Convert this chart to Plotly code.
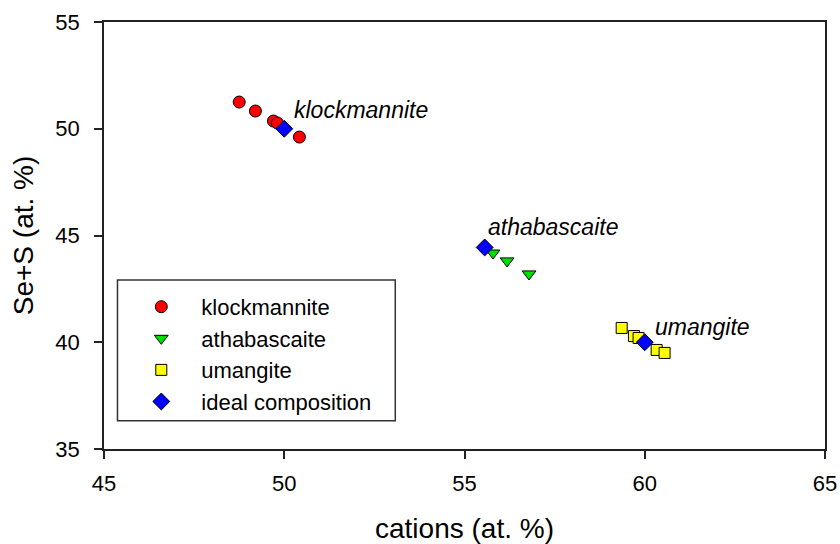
import plotly.graph_objects as go

# Compositions (at. %): cations vs Se+S
klock_x = [48.75, 49.20, 49.70, 49.81, 50.42]
klock_y = [51.25, 50.83, 50.36, 50.27, 49.61]

atha_x = [55.79, 56.18, 56.79]
atha_y = [44.18, 43.81, 43.20]

uman_x = [59.36, 59.70, 59.83, 60.33, 60.55]
uman_y = [40.67, 40.29, 40.20, 39.64, 39.50]

ideal_x = [50.00, 55.56, 60.00]
ideal_y = [50.00, 44.44, 40.00]

labels = ["klockmannite", "athabascaite", "umangite"]
label_x = [50.22, 55.6, 60.22]
label_y = [50.9, 45.4, 40.7]

x_ticks = [45, 50, 55, 60, 65]
y_ticks = [35, 40, 45, 50, 55]

FONT = "Liberation Sans, Arial, sans-serif"
outline = dict(color="black", width=1)

fig = go.Figure()
fig.add_trace(go.Scatter(x=klock_x, y=klock_y, mode="markers", name="klockmannite",
                         legendgroup="a",
                         marker=dict(symbol="circle", size=12, color="#ff0000", line=outline)))
fig.add_trace(go.Scatter(x=atha_x, y=atha_y, mode="markers", name="athabascaite",
                         legendgroup="b",
                         marker=dict(symbol="triangle-down", size=12, color="#00e000", line=outline)))
fig.add_trace(go.Scatter(x=uman_x, y=uman_y, mode="markers", name="umangite",
                         legendgroup="c",
                         marker=dict(symbol="square", size=11, color="#ffff00", line=outline)))
fig.add_trace(go.Scatter(x=ideal_x, y=ideal_y, mode="markers", name="ideal composition",
                         legendgroup="d",
                         marker=dict(symbol="diamond", size=13, color="#0000ff", line=outline)))

for t, lx, ly in zip(labels, label_x, label_y):
    fig.add_annotation(x=lx, y=ly, text=f"<i>{t}</i>", showarrow=False,
                       xanchor="left", yanchor="middle",
                       font=dict(family=FONT, size=23, color="black"))

# legend frame
fig.add_shape(type="rect", xref="paper", yref="paper",
              x0=0.0187, x1=0.404, y0=0.066, y1=0.396,
              line=dict(color="#333", width=1.5), fillcolor="rgba(0,0,0,0)")

axis_common = dict(showline=True, linecolor="#222", linewidth=1.5, mirror=True,
                   ticks="outside", ticklen=8, tickwidth=1.5, tickcolor="#222",
                   showgrid=False, zeroline=False, automargin=False,
                   tickfont=dict(family=FONT, size=22, color="black"))

fig.update_layout(
    width=840, height=544,
    margin=dict(l=103.5, r=15, t=22, b=95),
    paper_bgcolor="white", plot_bgcolor="white",
    font=dict(family=FONT, color="black"),
    xaxis=dict(range=[45, 65], tickvals=x_ticks, ticklabelstandoff=6,
               title=dict(text="cations (at. %)", font=dict(family=FONT, size=28), standoff=24),
               **axis_common),
    yaxis=dict(range=[35, 55], tickvals=y_ticks, ticklabelstandoff=10,
               title=dict(text="Se+S (at. %)", font=dict(family=FONT, size=28), standoff=14),
               **axis_common),
    legend=dict(x=0.024, y=0.382, xanchor="left", yanchor="top",
                bgcolor="rgba(0,0,0,0)", borderwidth=0,
                font=dict(family=FONT, size=22, color="black"),
                itemwidth=70, tracegroupgap=0),
)

fig.write_html("out.html")
